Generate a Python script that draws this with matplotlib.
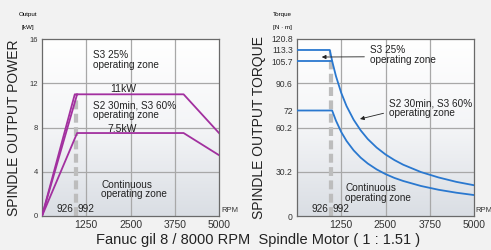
import matplotlib
matplotlib.use("Agg")
import matplotlib.pyplot as plt
import numpy as np

plt.rcParams['font.family'] = ['Liberation Sans', 'DejaVu Sans']

# power chart data (rpm, kW)
s3_25_rpm = [0, 926, 4000, 5000]
s3_25_kw = [0, 11, 11, 7.5]
s2_30_rpm = [0, 992]
s2_30_kw = [0, 11]
cont_rpm = [0, 992, 4000, 5000]
cont_kw = [0, 7.5, 7.5, 5.5]

# torque chart data (rpm, N.m)
t_high_rpm = [0, 926, 1000, 1100, 1250, 1400, 1600, 1800, 2000, 2250, 2500, 2750, 3000, 3500, 4000, 4500, 5000]
t_high_nm = [113.3, 113.3, 105.0, 95.5, 84.0, 75.0, 65.7, 58.4, 52.5, 46.7, 42.0, 38.2, 35.0, 30.0, 26.3, 23.3, 21.0]
t_s2_rpm = [0, 992]
t_s2_nm = [105.7, 105.7]
t_cont_rpm = [0, 992, 1100, 1250, 1400, 1600, 1800, 2000, 2250, 2500, 2750, 3000, 3500, 4000, 4500, 5000]
t_cont_nm = [72, 72, 65.1, 57.3, 51.2, 44.8, 39.8, 35.8, 31.8, 28.6, 26.0, 23.9, 20.5, 17.9, 15.9, 14.3]

base_rpm = [926, 992]
x_ticks = [1250, 2500, 3750, 5000]
power_ticks = [0, 4, 8, 12, 16]
torque_ticks = [0, 30.2, 60.2, 72, 90.6, 105.7, 113.3, 120.8]
torque_grid = [30.2, 60.2, 90.6]

purple = '#a2309f'
blue = '#2a78cf'
narrow = ['Liberation Sans Narrow', 'Liberation Sans']

fig = plt.figure(figsize=(4.91, 2.5), dpi=100)
fig.patch.set_facecolor('#f2f2f2')

ax1 = fig.add_axes([42 / 491, 34 / 250, 177 / 491, 177 / 250])
ax2 = fig.add_axes([297 / 491, 34 / 250, 177 / 491, 177 / 250])


def style_axes(ax, ymax, ygrid):
    ax.set_xlim(0, 5000)
    ax.set_ylim(0, ymax)
    # background gradient white -> light grey-blue
    grad = np.linspace(0, 1, 100).reshape(-1, 1)
    cmap = matplotlib.colors.LinearSegmentedColormap.from_list('bg', ['#dadee4', '#f4f5f7', '#ffffff'])
    ax.imshow(grad, extent=[0, 5000, 0, ymax], aspect='auto', origin='lower', cmap=cmap, zorder=0)
    for v in [1250, 2500, 3750]:
        ax.axvline(v, color='#a8a8a8', lw=0.9, zorder=1)
    for v in ygrid:
        ax.axhline(v, color='#a8a8a8', lw=0.9, zorder=1)
    for s in ax.spines.values():
        s.set_color('#6a6a6a')
        s.set_linewidth(0.9)
    ax.set_xticks(x_ticks)
    ax.tick_params(length=0, pad=3)
    for lab in ax.get_xticklabels():
        lab.set_fontsize(7.5)
        lab.set_family(narrow)
        lab.set_color('#333333')


# --- power chart ---
style_axes(ax1, 16, [4, 8, 12])
ax1.set_yticks(power_ticks)
ax1.set_yticklabels([str(v) for v in power_ticks], fontsize=5.5, family=narrow, color='#333333')
ax1.vlines(base_rpm, 0, 10.9, colors='#bdbdbd', lw=1.6, linestyles=(0, (4, 2)), zorder=2)
ax1.plot(s3_25_rpm, s3_25_kw, color=purple, lw=1.3, zorder=3)
ax1.plot(s2_30_rpm, s2_30_kw, color=purple, lw=1.3, zorder=3)
ax1.plot(cont_rpm, cont_kw, color=purple, lw=1.3, zorder=3)

ax1.text(1440, 14.1, 'S3 25%\noperating zone', fontsize=7.2, linespacing=0.95, va='center', color='#222222')
ax1.text(2290, 11.5, '11kW', fontsize=7.5, ha='center', va='center', color='#222222')
ax1.text(1440, 9.55, 'S2 30min, S3 60%\noperating zone', fontsize=7.2, linespacing=0.95, va='center', color='#222222')
ax1.text(2250, 7.85, '7.5kW', fontsize=7.5, ha='center', va='center', color='#222222')
ax1.text(1670, 2.4, 'Continuous\noperating zone', fontsize=7.2, linespacing=0.95, va='center', color='#222222')
ax1.text(890, 0.2, '926', fontsize=7.2, ha='right', va='bottom', color='#222222')
ax1.text(1000, 0.2, '992', fontsize=7.2, ha='left', va='bottom', color='#222222')
ax1.text(5080, 0.2, 'RPM', fontsize=5.5, family=narrow, ha='left', va='bottom', color='#333333')
ax1.text(-0.08, 1.14, 'Output', transform=ax1.transAxes, fontsize=4.5, family=narrow, ha='center', va='center')
ax1.text(-0.08, 1.065, '[kW]', transform=ax1.transAxes, fontsize=4.5, family=narrow, ha='center', va='center')
ax1.set_ylabel('SPINDLE OUTPUT POWER', fontsize=10, labelpad=6, color='#222222')

# --- torque chart ---
style_axes(ax2, 120.8, torque_grid)
ax2.set_yticks(torque_ticks)
ax2.set_yticklabels([str(v) for v in torque_ticks], fontsize=6.2, family=narrow, color='#333333')
ax2.vlines(base_rpm[0], 0, 113.3, colors='#bdbdbd', lw=1.6, linestyles=(0, (4, 2)), zorder=2)
ax2.vlines(base_rpm[1], 0, 105.7, colors='#bdbdbd', lw=1.6, linestyles=(0, (4, 2)), zorder=2)
ax2.plot(t_high_rpm, t_high_nm, color=blue, lw=1.3, zorder=3)
ax2.plot(t_s2_rpm, t_s2_nm, color=blue, lw=1.3, zorder=3)
ax2.plot(t_cont_rpm, t_cont_nm, color=blue, lw=1.3, zorder=3)

ax2.annotate('S3 25%\noperating zone', xy=(700, 108.5), xytext=(2060, 110), fontsize=7.2,
             linespacing=0.95, va='center', color='#222222',
             arrowprops=dict(arrowstyle='-|>', color='#222222', lw=0.6, mutation_scale=6,
                             shrinkA=2, shrinkB=0, relpos=(0, 0.4)))
ax2.annotate('S2 30min, S3 60%\noperating zone', xy=(1780, 66.2), xytext=(2600, 73.7), fontsize=7.2,
             linespacing=0.95, va='center', color='#222222',
             arrowprops=dict(arrowstyle='-|>', color='#222222', lw=0.6, mutation_scale=6,
                             shrinkA=2, shrinkB=0, relpos=(0, 0.3)))
ax2.text(1370, 15.7, 'Continuous\noperating zone', fontsize=7.2, linespacing=0.95, va='center', color='#222222')
ax2.text(890, 1.5, '926', fontsize=7.2, ha='right', va='bottom', color='#222222')
ax2.text(1000, 1.5, '992', fontsize=7.2, ha='left', va='bottom', color='#222222')
ax2.text(5040, 1.5, 'RPM', fontsize=5.5, family=narrow, ha='left', va='bottom', color='#333333')
ax2.text(-0.08, 1.14, 'Torque', transform=ax2.transAxes, fontsize=4.5, family=narrow, ha='center', va='center')
ax2.text(-0.08, 1.065, '[N · m]', transform=ax2.transAxes, fontsize=4.5, family=narrow, ha='center', va='center')
ax2.set_ylabel('SPINDLE OUTPUT TORQUE', fontsize=10, labelpad=4, color='#222222')

fig.text(0.525, 0.04, 'Fanuc gil 8 / 8000 RPM  Spindle Motor ( 1 : 1.51 )', fontsize=10.5,
         ha='center', va='center', color='#222222')

fig.savefig('out.png', dpi=100, facecolor=fig.get_facecolor())
